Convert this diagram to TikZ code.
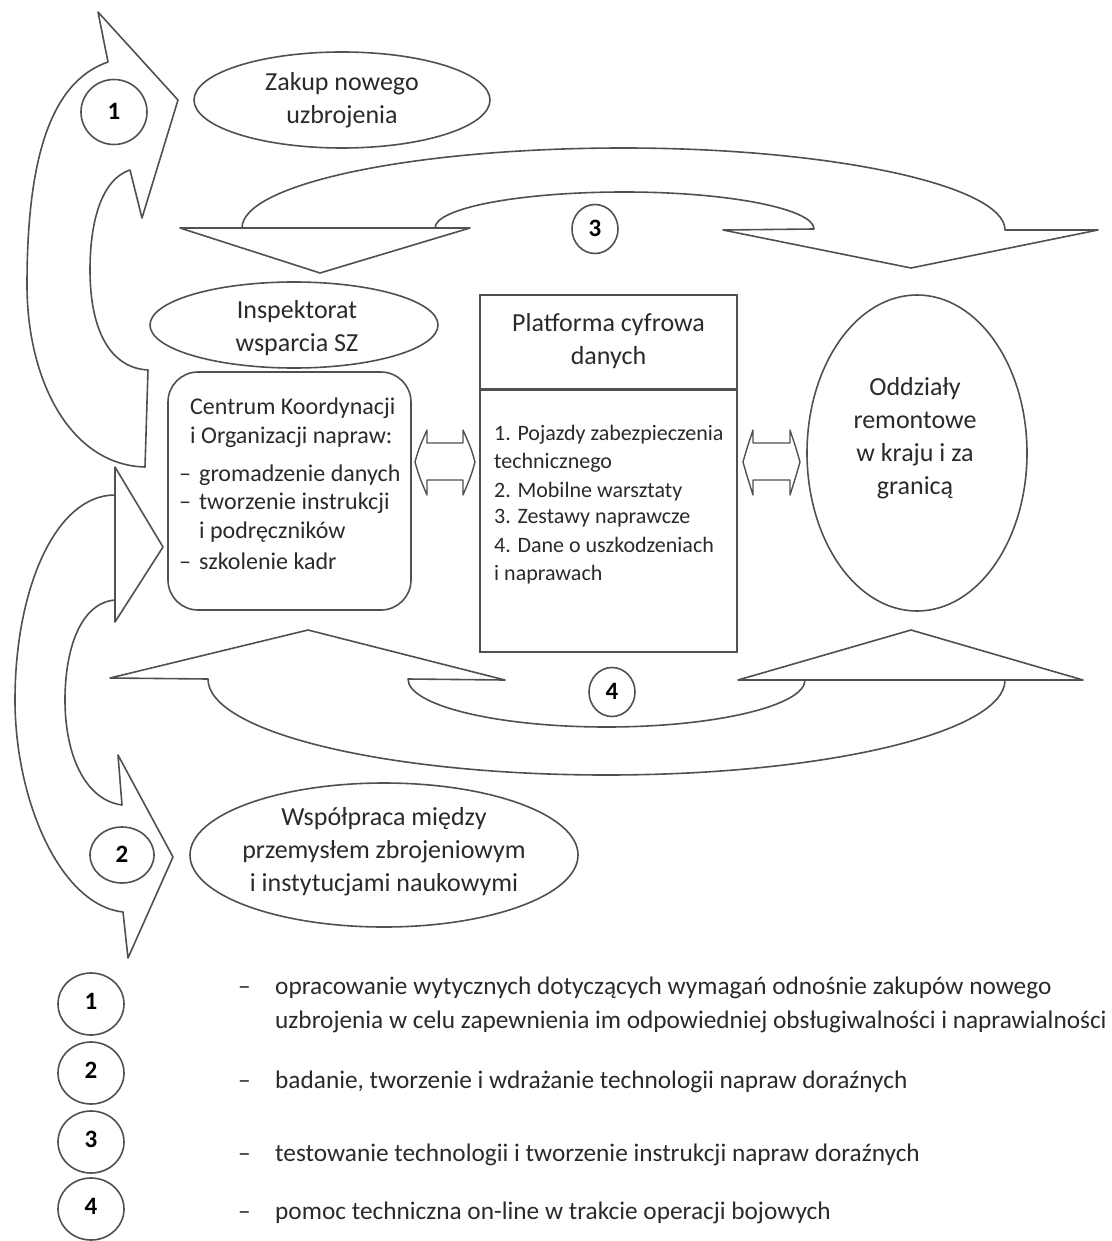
\documentclass[tikz,border=0pt]{standalone}
\usepackage{fontspec}
\setmainfont{Carlito}
\usetikzlibrary{shapes.geometric,calc}
\definecolor{ln}{HTML}{505050}
\definecolor{tx}{HTML}{2A2A2A}
\begin{document}
\begin{tikzpicture}[x=1pt,y=-1pt,
  shp/.style={draw=ln,line width=1.6pt,fill=white,line join=round},
  ell/.style={ellipse,draw=ln,line width=1.6pt,fill=white,inner sep=0pt},
  big/.style={text=tx,inner sep=0pt,font=\fontsize{26}{33}\selectfont,align=center},
  mid/.style={text=tx,inner sep=0pt,anchor=base west,font=\fontsize{24}{29}\selectfont},
  sml/.style={text=tx,inner sep=0pt,anchor=base west,font=\fontsize{22}{28}\selectfont},
  leg/.style={text=tx,inner sep=0pt,anchor=base west,font=\fontsize{25.3}{34}\selectfont},
  num/.style={text=black,inner sep=0pt,font=\fontsize{25}{28}\selectfont\bfseries},
  dbl/.style={draw=ln,line width=1.4pt,fill=white,line join=round}]
\useasboundingbox (0,0) rectangle (1111,1241);

% ---------- arrow 1 (curved, pointing to "Zakup") ----------
\draw[shp] (108,62) -- (98,12) -- (178,100) -- (142,218) -- (130,170)
  .. controls (100,180) and (90,225) .. (90,270)
  .. controls (90,330) and (110,368) .. (148,370)
  -- (145,467)
  .. controls (70,465) and (27,380) .. (27,285)
  .. controls (27,160) and (50,82) .. (108,62) -- cycle;

% ---------- arrow 2 (curved, left) ----------
\draw[shp] (115,495)
  .. controls (55,495) and (15,590) .. (15,700)
  .. controls (15,800) and (60,905) .. (123,912)
  -- (128,958) -- (173,857) -- (118,755) -- (122,805)
  .. controls (85,800) and (65,755) .. (65,700)
  .. controls (65,650) and (80,603) .. (115,600) -- cycle;
\draw[shp] (115,467) -- (163,547) -- (115,622) -- cycle;

% ---------- arrow 3 (top) ----------
\draw[shp] (242,228)
  .. controls (242,184) and (413,148) .. (623.5,148)
  .. controls (834,148) and (1005,186) .. (1005,230)
  -- (1098,230) -- (911,268) -- (723,230) -- (814,229)
  .. controls (814,209) and (729,192) .. (624.5,192)
  .. controls (520,192) and (435,208) .. (435,228) -- cycle;
\draw[shp] (180,228) -- (470,228) -- (320,273) -- cycle;

% ---------- arrow 4 (bottom) ----------
\draw[shp] (1005,680)
  .. controls (1005,732) and (826.5,775) .. (606.5,775)
  .. controls (386.5,775) and (208,732) .. (208,679)
  -- (110,678) -- (308,630) -- (505,680) -- (408,679)
  .. controls (408,705.5) and (497,727) .. (606.5,727)
  .. controls (716,727) and (805,705.5) .. (805,680) -- cycle;
\draw[shp] (738,680) -- (911,630) -- (1083,680) -- cycle;

% ---------- double arrows ----------
\draw[dbl] (415,462) .. controls (419,448) .. (427,430) -- (427,443) -- (463,443) -- (463,430)
  .. controls (471,448) .. (475,462) .. controls (471,476) .. (463,495) -- (463,480) -- (427,480) -- (427,495)
  .. controls (419,476) .. (415,462) -- cycle;
\draw[dbl] (743,462) .. controls (747,448) .. (753,430) -- (753,443) -- (790,443) -- (790,430)
  .. controls (796,448) .. (800,462) .. controls (796,476) .. (790,495) -- (790,480) -- (753,480) -- (753,495)
  .. controls (747,476) .. (743,462) -- cycle;

% ---------- ellipses ----------
\node[ell,minimum width=296,minimum height=96] (zakup) at (342,100) {};
\node[big] (zakupt) at (342,100) {Zakup nowego\\uzbrojenia};

\node[ell,minimum width=288,minimum height=86] (insp) at (294,325) {};
\node[big] (inspt) at (297,328) {Inspektorat\\wsparcia SZ};

\node[ell,minimum width=220,minimum height=316] (oddz) at (917,453) {};
\node[big] (oddzt) at (915,438) {Oddziały\\remontowe\\w kraju i za\\granicą};

\node[ell,minimum width=388,minimum height=144] (wsp) at (384,855) {};
\node[big] (wspt) at (384,852) {Współpraca między\\przemysłem zbrojeniowym\\i instytucjami naukowymi};

% ---------- number circles ----------
\node[ell,minimum width=66,minimum height=65] (n1) at (114,112) {};
\node[num] (n1t) at (114,111) {1};
\node[ell,minimum width=64,minimum height=56] (n2) at (122,855) {};
\node[num] (n2t) at (122,854) {2};
\node[ell,minimum width=46,minimum height=49] (n3) at (595,229) {};
\node[num] (n3t) at (595,228) {3};
\node[ell,minimum width=46,minimum height=49] (n4) at (612,692) {};
\node[num] (n4t) at (612,691) {4};

% ---------- Centrum box ----------
\node[draw=ln,line width=1.6pt,fill=white,rounded corners=30pt,minimum width=243,minimum height=238,inner sep=0pt] (centrum) at (289.5,491) {};
\node[mid] (c1) at (190,414) {Centrum Koordynacji};
\node[mid] (c2) at (190,443) {i Organizacji napraw:};
\node[mid] (c3d) at (179,481) {–};
\node[mid] (c3) at (199,481) {gromadzenie danych};
\node[mid] (c4d) at (179,509) {–};
\node[mid] (c4) at (199,509) {tworzenie instrukcji};
\node[mid] (c5) at (199,538) {i podręczników};
\node[mid] (c6d) at (179,569) {–};
\node[mid] (c6) at (199,569) {szkolenie kadr};

% ---------- Platform box ----------
\node[draw=ln,line width=1.6pt,fill=white,minimum width=257,minimum height=357,inner sep=0pt] (platform) at (608.5,473.5) {};
\draw[ln,line width=3pt] ($(platform.north west)+(0,95)$) -- ($(platform.north east)+(0,95)$);
\node[big] (platt) at (608.5,341) {Platforma cyfrowa\\danych};
\node[sml] (p1) at (494,440) {1. Pojazdy zabezpieczenia};
\node[sml] (p1b) at (494,468) {technicznego};
\node[sml] (p2) at (494,497) {2. Mobilne warsztaty};
\node[sml] (p3) at (494,523) {3. Zestawy naprawcze};
\node[sml] (p4) at (494,552) {4. Dane o uszkodzeniach};
\node[sml] (p4b) at (494,580) {i naprawach};

% ---------- legend ----------
\node[ell,minimum width=66,minimum height=62] (l1) at (91,1004) {};
\node[num] (l1t) at (91,1001) {1};
\node[ell,minimum width=66,minimum height=62] (l2) at (91,1073) {};
\node[num] (l2t) at (91,1070) {2};
\node[ell,minimum width=66,minimum height=62] (l3) at (91,1142) {};
\node[num] (l3t) at (91,1139) {3};
\node[ell,minimum width=66,minimum height=62] (l4) at (91,1209) {};
\node[num] (l4t) at (91,1206) {4};

\node[leg] (d1) at (238,994) {–};
\node[leg] (t1) at (275,994) {opracowanie wytycznych dotyczących wymagań odnośnie zakupów nowego};
\node[leg] (t1b) at (275,1028) {uzbrojenia w celu zapewnienia im odpowiedniej obsługiwalności i naprawialności};
\node[leg] (d2) at (238,1088) {–};
\node[leg] (t2) at (275,1088) {badanie, tworzenie i wdrażanie technologii napraw doraźnych};
\node[leg] (d3) at (238,1161) {–};
\node[leg] (t3) at (275,1161) {testowanie technologii i tworzenie instrukcji napraw doraźnych};
\node[leg] (d4) at (238,1219) {–};
\node[leg] (t4) at (275,1219) {pomoc techniczna on-line w trakcie operacji bojowych};
\end{tikzpicture}
\end{document}
